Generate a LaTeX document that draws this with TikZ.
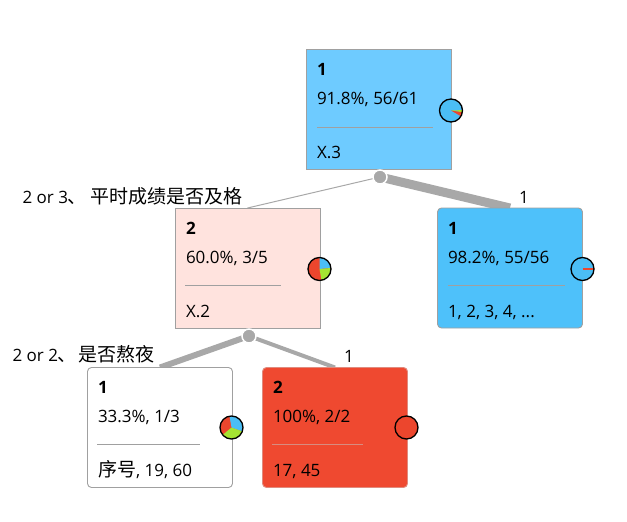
\documentclass[tikz,border=0pt]{standalone}
\usepackage{fontspec}
\setmainfont{Open Sans}
\newfontfamily\cjk{Noto Sans CJK SC}
\usetikzlibrary{backgrounds}
\newcommand\zh[1]{{\cjk\fontsize{19}{20}\selectfont #1}}
\definecolor{rootblue}{RGB}{110,203,255}
\definecolor{leafblue}{RGB}{78,193,250}
\definecolor{lpink}{RGB}{255,227,222}
\definecolor{lred}{RGB}{239,73,48}
\definecolor{pieblue}{RGB}{75,190,245}
\definecolor{piered}{RGB}{236,70,45}
\definecolor{piegreen}{RGB}{165,228,50}
\definecolor{conn}{RGB}{168,168,168}
\definecolor{bordergray}{RGB}{160,160,160}
\definecolor{sepgray}{RGB}{160,160,160}
\definecolor{sepred}{RGB}{215,140,128}
\begin{document}
\begin{tikzpicture}[x=1pt,y=-1pt,
  box/.style={draw=bordergray, line width=0.9pt, minimum width=145pt, minimum height=120pt, inner sep=0pt, outer sep=0pt, anchor=north west},
  leaf/.style={box, rounded corners=4pt},
  txt/.style={inner sep=0pt, outer sep=0pt, anchor=base west, font=\fontsize{17}{20}\selectfont},
  lbl/.style={inner sep=0pt, outer sep=0pt, font=\fontsize{17}{20}\selectfont},
  sep/.style={draw=sepgray, line width=0.9pt},
  pie/.style={circle, draw=black, line width=1.3pt, minimum size=23pt, inner sep=0pt, outer sep=0pt},
  splitpt/.style={circle, fill=conn, draw=white, line width=1.5pt, minimum size=14pt, inner sep=0pt},
  conline/.style={draw=conn}
]
\useasboundingbox (0,0) rectangle (627,522);

% boxes
\node[box, fill=rootblue] (n1) at (306,49) {};
\node[box, fill=lpink] (n2) at (175,208) {};
\node[leaf, fill=leafblue] (n3) at (437.5,208) {};
\node[leaf, fill=white] (n4) at (87.5,367.5) {};
\node[leaf, fill=lred, draw=lred!85!black!60] (n5) at (262.5,367.5) {};

% split points
\node[splitpt] (s1) at (380,177) {};
\node[splitpt] (s2) at (249,336) {};

\begin{scope}[on background layer]
\draw[conline, line width=1pt] (s1.center) -- (n2.north);
\draw[conline, line width=9pt] (s1.center) -- (n3.north);
\draw[conline, line width=6pt] (s2.center) -- (n4.north);
\draw[conline, line width=4pt] (s2.center) -- (n5.north);
\end{scope}

% texts root
\node[txt] (t1a) at (317,75) {\bfseries 1};
\node[txt] (t1b) at (317,104) {91.8\%, 56/61};
\draw[sep] (317,127.5) -- (433,127.5);
\node[txt] (t1c) at (317,158) {X.3};
% left
\node[txt] (t2a) at (186,234) {\bfseries 2};
\node[txt] (t2b) at (186,263) {60.0\%, 3/5};
\draw[sep] (185,285.5) -- (281,285.5);
\node[txt] (t2c) at (186,317) {X.2};
% right
\node[txt] (t3a) at (448,234) {\bfseries 1};
\node[txt] (t3b) at (448,263) {98.2\%, 55/56};
\draw[sep] (448,285.5) -- (565,285.5);
\node[txt] (t3c) at (448,317) {1, 2, 3, 4, ...};
% bottom left
\node[txt] (t4a) at (98,393) {\bfseries 1};
\node[txt] (t4b) at (98,422) {33.3\%, 1/3};
\draw[sep] (97,444.5) -- (200,444.5);
\node[txt] (t4c) at (98,476) {\zh{序号}, 19, 60};
% bottom right
\node[txt] (t5a) at (273,393) {\bfseries 2};
\node[txt] (t5b) at (273,422) {100\%, 2/2};
\draw[sep, draw=sepred] (272,444.5) -- (363,444.5);
\node[txt] (t5c) at (273,476) {17, 45};

% labels
\node[lbl, anchor=base east] (l1) at (243,203) {2 or 3\zh{、\hspace{4pt}平时成绩是否及格}};
\node[lbl, anchor=base west] (l2) at (519,203) {1};
\node[lbl, anchor=base east] (l3) at (155,361) {2 or 2\zh{、\hspace{2pt}是否熬夜}};
\node[lbl, anchor=base west] (l4) at (344,362) {1};

% pies
\coordinate (c1) at (451,110.5);
\coordinate (c2) at (319.5,269);
\coordinate (c3) at (582.5,269);
\coordinate (c4) at (231.5,427.5);
\coordinate (c5) at (406.5,427.5);
\begin{scope}[shift={(c1)}, y=1pt]
\fill[pieblue] (0,0) circle (11.5);
\fill[piegreen] (0,0) -- (2:11.5) arc[start angle=2, end angle=-9, radius=11.5] -- cycle;
\fill[piered] (0,0) -- (-9:11.5) arc[start angle=-9, end angle=-30, radius=11.5] -- cycle;
\end{scope}
\begin{scope}[shift={(c2)}, y=1pt]
\fill[piered] (0,0) circle (11.5);
\fill[pieblue] (0,0) -- (90:11.5) arc[start angle=90, end angle=5, radius=11.5] -- cycle;
\fill[piegreen] (0,0) -- (5:11.5) arc[start angle=5, end angle=-80, radius=11.5] -- cycle;
\end{scope}
\begin{scope}[shift={(c3)}, y=1pt]
\fill[pieblue] (0,0) circle (11.5);
\draw[piered, line width=1.6pt] (0,0) -- (0:11.5);
\end{scope}
\begin{scope}[shift={(c4)}, y=1pt]
\fill[piered] (0,0) circle (11.5);
\fill[pieblue] (0,0) -- (100:11.5) arc[start angle=100, end angle=-20, radius=11.5] -- cycle;
\fill[piegreen] (0,0) -- (-20:11.5) arc[start angle=-20, end angle=-140, radius=11.5] -- cycle;
\end{scope}
\begin{scope}[shift={(c5)}, y=1pt]
\fill[piered] (0,0) circle (11.5);
\end{scope}
\node[pie] (p1) at (c1) {};
\node[pie] (p2) at (c2) {};
\node[pie] (p3) at (c3) {};
\node[pie] (p4) at (c4) {};
\node[pie] (p5) at (c5) {};
\end{tikzpicture}
\end{document}
